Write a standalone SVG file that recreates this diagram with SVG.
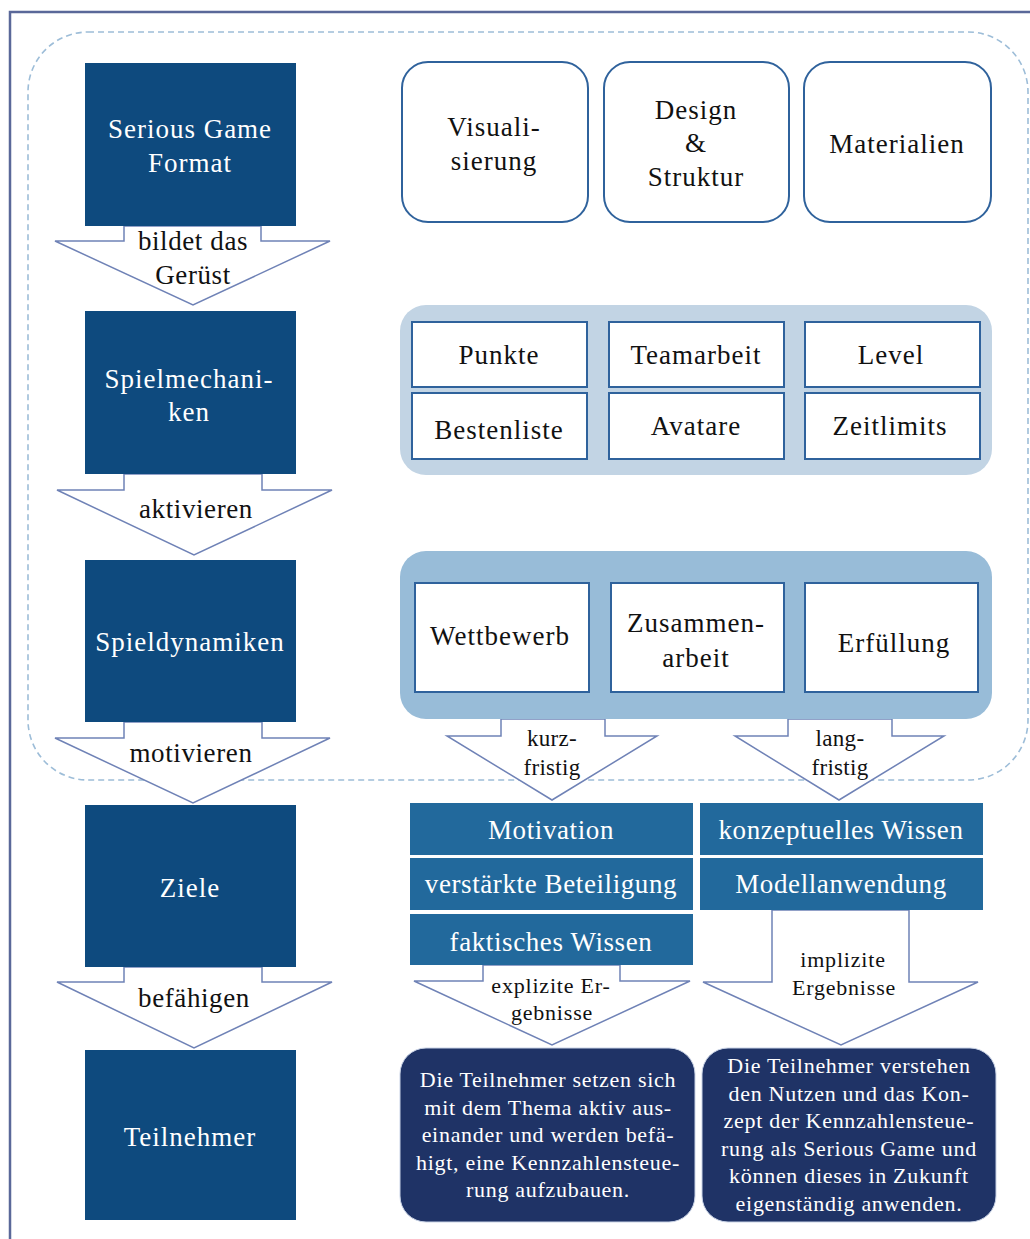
<svg xmlns="http://www.w3.org/2000/svg" width="1030" height="1239" viewBox="0 0 1030 1239" font-family="'Liberation Serif', 'DejaVu Serif', serif">
  <style>
    text { font-family: "Liberation Serif", "DejaVu Serif", serif; text-anchor: middle; }
    .frame { fill: none; stroke: #5a6899; stroke-width: 2.5; }
    .scope { fill: none; stroke: #9dbdd8; stroke-width: 1.6; stroke-dasharray: 6 4; }
    .stage { fill: #0e4a7e; }
    .stage-t { fill: #ffffff; font-size: 27px; letter-spacing: 1px; }
    .arrow { fill: #ffffff; stroke: #6f82b6; stroke-width: 1.5; stroke-linejoin: miter; }
    .arrow-t { fill: #111111; font-size: 27px; letter-spacing: 0.6px; }
    .arrow-s { fill: #111111; font-size: 23px; letter-spacing: 0.3px; }
    .arrow-xs { fill: #111111; font-size: 22px; letter-spacing: 0.8px; }
    .card { fill: #ffffff; stroke: #2f629c; stroke-width: 2; }
    .cell { fill: #ffffff; stroke: #2f629c; stroke-width: 2; }
    .dark-t { fill: #111111; font-size: 27px; letter-spacing: 1px; }
    .panel-mech { fill: #c2d4e4; }
    .panel-dyn { fill: #98bcd8; }
    .goal { fill: #22699c; }
    .goal-t { fill: #ffffff; font-size: 27px; letter-spacing: 0.6px; }
    .result { fill: #1f3366; stroke: #c9d3e6; stroke-width: 1; }
    .result-t { fill: #ffffff; font-size: 22px; letter-spacing: 0.7px; }
  </style>

  <!-- page frame -->
  <path class="frame" d="M10,1239 V12 H1030"/>

  <!-- dashed scope of the game elements -->
  <rect class="scope" x="28" y="32" width="1000" height="748" rx="60"/>

  <!-- connectors -->
  <g id="connectors">
    <polygon class="arrow" points="124,226 124,241 55,241 193,305 330,241 261,241 261,226"/>
    <polygon class="arrow" points="124,474 124,490 57,490 194,555 332,490 262,490 262,474"/>
    <polygon class="arrow" points="124,722 124,738 55,738 193,803 330,738 262,738 262,722"/>
    <polygon class="arrow" points="124,967 124,982 57,982 194,1048 332,982 262,982 262,967"/>
    <polygon class="arrow" points="501,719 501,736 447,736 552,800 657,736 605,736 605,719"/>
    <polygon class="arrow" points="788,719 788,736 735,736 839,800 944,736 892,736 892,719"/>
    <polygon class="arrow" points="483,965 483,981 414,981 552,1045 690,981 620,981 620,965"/>
    <polygon class="arrow" points="772,910 772,982 703,982 841,1045 978,982 909,982 909,910"/>
    <text class="arrow-t" x="193" y="250">bildet das</text>
    <text class="arrow-t" x="193" y="284">Gerüst</text>
    <text class="arrow-t" x="196" y="518">aktivieren</text>
    <text class="arrow-t" x="191" y="762">motivieren</text>
    <text class="arrow-t" x="194" y="1007">befähigen</text>
    <text class="arrow-s" x="552" y="746">kurz-</text>
    <text class="arrow-s" x="552" y="775">fristig</text>
    <text class="arrow-s" x="840" y="746">lang-</text>
    <text class="arrow-s" x="840" y="775">fristig</text>
    <text class="arrow-xs" x="551" y="993">explizite Er-</text>
    <text class="arrow-xs" x="552" y="1020">gebnisse</text>
    <text class="arrow-xs" x="843" y="967">implizite</text>
    <text class="arrow-xs" x="844" y="995">Ergebnisse</text>
  </g>

  <!-- stages, left column -->
  <g id="serious-game-format">
    <rect class="stage" x="85" y="63" width="211" height="163"/>
    <text class="stage-t" x="190" y="138">Serious Game</text>
    <text class="stage-t" x="190" y="172">Format</text>
  </g>
  <g id="spielmechaniken">
    <rect class="stage" x="85" y="311" width="211" height="163"/>
    <text class="stage-t" x="189" y="388">Spielmechani-</text>
    <text class="stage-t" x="189" y="421">ken</text>
  </g>
  <g id="spieldynamiken">
    <rect class="stage" x="85" y="560" width="211" height="162"/>
    <text class="stage-t" x="190" y="651">Spieldynamiken</text>
  </g>
  <g id="ziele">
    <rect class="stage" x="85" y="805" width="211" height="162"/>
    <text class="stage-t" x="190" y="897">Ziele</text>
  </g>
  <g id="teilnehmer">
    <rect class="stage" x="85" y="1050" width="211" height="170"/>
    <text class="stage-t" x="190" y="1146">Teilnehmer</text>
  </g>

  <!-- format elements -->
  <g id="visualisierung">
    <rect class="card" x="402" y="62" width="186" height="160" rx="26"/>
    <text class="dark-t" x="494" y="136">Visuali-</text>
    <text class="dark-t" x="494" y="170">sierung</text>
  </g>
  <g id="design-struktur">
    <rect class="card" x="604" y="62" width="185" height="160" rx="26"/>
    <text class="dark-t" x="696" y="119">Design</text>
    <text class="dark-t" x="696" y="152">&amp;</text>
    <text class="dark-t" x="696" y="186">Struktur</text>
  </g>
  <g id="materialien">
    <rect class="card" x="804" y="62" width="187" height="160" rx="26"/>
    <text class="dark-t" x="897" y="153">Materialien</text>
  </g>

  <!-- mechanics -->
  <g id="mechaniken-panel">
    <rect class="panel-mech" x="400" y="305" width="592" height="170" rx="26"/>
  </g>
  <g id="punkte">
    <rect class="cell" x="412" y="322" width="175" height="65"/>
    <text class="dark-t" x="499" y="364">Punkte</text>
  </g>
  <g id="teamarbeit">
    <rect class="cell" x="609" y="322" width="175" height="65"/>
    <text class="dark-t" x="696" y="364">Teamarbeit</text>
  </g>
  <g id="level">
    <rect class="cell" x="805" y="322" width="175" height="65"/>
    <text class="dark-t" x="891" y="364">Level</text>
  </g>
  <g id="bestenliste">
    <rect class="cell" x="412" y="393" width="175" height="66"/>
    <text class="dark-t" x="499" y="439">Bestenliste</text>
  </g>
  <g id="avatare">
    <rect class="cell" x="609" y="393" width="175" height="66"/>
    <text class="dark-t" x="696" y="435">Avatare</text>
  </g>
  <g id="zeitlimits">
    <rect class="cell" x="805" y="393" width="175" height="66"/>
    <text class="dark-t" x="890" y="435">Zeitlimits</text>
  </g>

  <!-- dynamics -->
  <g id="dynamiken-panel">
    <rect class="panel-dyn" x="400" y="551" width="592" height="168" rx="26"/>
  </g>
  <g id="wettbewerb">
    <rect class="cell" x="415" y="583" width="174" height="109"/>
    <text class="dark-t" x="500" y="645">Wettbewerb</text>
  </g>
  <g id="zusammenarbeit">
    <rect class="cell" x="611" y="583" width="173" height="109"/>
    <text class="dark-t" x="696" y="632">Zusammen-</text>
    <text class="dark-t" x="696" y="667">arbeit</text>
  </g>
  <g id="erfuellung">
    <rect class="cell" x="805" y="583" width="173" height="109"/>
    <text class="dark-t" x="894" y="652">Erfüllung</text>
  </g>

  <!-- goals -->
  <g id="motivation">
    <rect class="goal" x="410" y="803" width="283" height="52"/>
    <text class="goal-t" x="551" y="839">Motivation</text>
  </g>
  <g id="beteiligung">
    <rect class="goal" x="410" y="858" width="283" height="52"/>
    <text class="goal-t" x="551" y="893">verstärkte Beteiligung</text>
  </g>
  <g id="faktisches-wissen">
    <rect class="goal" x="410" y="914" width="283" height="51"/>
    <text class="goal-t" x="551" y="951">faktisches Wissen</text>
  </g>
  <g id="konzeptuelles-wissen">
    <rect class="goal" x="700" y="803" width="283" height="52"/>
    <text class="goal-t" x="841" y="839">konzeptuelles Wissen</text>
  </g>
  <g id="modellanwendung">
    <rect class="goal" x="700" y="858" width="283" height="52"/>
    <text class="goal-t" x="841" y="893">Modellanwendung</text>
  </g>

  <!-- results -->
  <g id="explizite-ergebnisse">
    <rect class="result" x="400" y="1048" width="295" height="174" rx="26"/>
    <text class="result-t" x="548" y="1087">Die Teilnehmer setzen sich</text>
    <text class="result-t" x="548" y="1115">mit dem Thema aktiv aus-</text>
    <text class="result-t" x="548" y="1142">einander und werden befä-</text>
    <text class="result-t" x="548" y="1170">higt, eine Kennzahlensteue-</text>
    <text class="result-t" x="548" y="1197">rung aufzubauen.</text>
  </g>
  <g id="implizite-ergebnisse">
    <rect class="result" x="702" y="1048" width="294" height="174" rx="26"/>
    <text class="result-t" x="849" y="1073">Die Teilnehmer verstehen</text>
    <text class="result-t" x="849" y="1101">den Nutzen und das Kon-</text>
    <text class="result-t" x="849" y="1128">zept der Kennzahlensteue-</text>
    <text class="result-t" x="849" y="1156">rung als Serious Game und</text>
    <text class="result-t" x="849" y="1183">können dieses in Zukunft</text>
    <text class="result-t" x="849" y="1211">eigenständig anwenden.</text>
  </g>
</svg>
